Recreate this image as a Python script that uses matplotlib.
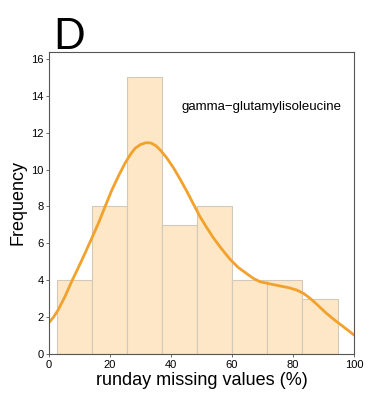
import matplotlib
matplotlib.use("Agg")
import matplotlib.pyplot as plt

plt.rcParams["font.family"] = ["Liberation Sans", "DejaVu Sans"]

# histogram bins (edges in %) and counts
bin_edges = [2.6, 14.1, 25.6, 37.1, 48.6, 60.1, 71.6, 83.1, 94.6]
counts = [4, 8, 15, 7, 8, 4, 4, 3]

# density curve
curve_x = [0, 1.5, 3.0, 5.2, 7.4, 9.6, 11.8, 14.0, 16.2, 18.4, 20.6, 22.8, 24.9,
           26.6, 28.2, 30.0, 31.8, 33.5, 35.0, 36.4, 38.6, 40.8, 43.0, 45.1,
           47.3, 49.5, 51.7, 53.9, 56.5, 59.3, 62.0, 64.8, 67.0, 69.2, 72.5,
           75.7, 78.5, 81.2, 83.5, 85.6, 88.3, 91.0, 93.8, 96.5, 98.3, 100]
curve_y = [1.7, 2.0, 2.39, 3.1, 3.92, 4.68, 5.46, 6.27, 7.09, 8.0, 8.89, 9.66, 10.34,
           10.8, 11.15, 11.36, 11.46, 11.44, 11.3, 11.08, 10.64, 10.1, 9.48, 8.85,
           8.15, 7.45, 6.86, 6.3, 5.72, 5.15, 4.7, 4.36, 4.1, 3.92, 3.8,
           3.69, 3.6, 3.47, 3.28, 3.02, 2.62, 2.2, 1.82, 1.48, 1.25, 1.03]

label = "gamma\u2212glutamylisoleucine"

fig = plt.figure(figsize=(3.7, 3.95), dpi=100)
ax = fig.add_axes([0.1324, 0.1038, 0.8244, 0.7646])

widths = [b - a for a, b in zip(bin_edges[:-1], bin_edges[1:])]
ax.bar(bin_edges[:-1], counts, width=widths, align="edge",
       color="#fde7c6", edgecolor="#d3c9ba", linewidth=0.8)
ax.plot(curve_x, curve_y, color="#f2a22c", lw=2.0,
        solid_capstyle="round", solid_joinstyle="round")

ax.set_xlim(0, 100)
ax.set_ylim(0, 16.38)
ax.set_xticks([0, 20, 40, 60, 80, 100])
ax.set_yticks(range(0, 17, 2))
ax.tick_params(labelsize=8, length=2.5, width=0.6, color="#555555", pad=1.5)
for s in ax.spines.values():
    s.set_color("#555555")
    s.set_linewidth(0.8)

ax.set_xlabel("runday missing values (%)", fontsize=13, labelpad=2)
ax.set_ylabel("Frequency", fontsize=13, labelpad=3)
ax.text(43.6, 13.4, label, fontsize=9.5, va="center", ha="left")

fig.text(0.145, 0.955, "D", fontsize=30, va="top", ha="left",
         family=["Lato", "DejaVu Sans"], fontweight="normal")

fig.savefig("out.png", dpi=100)
